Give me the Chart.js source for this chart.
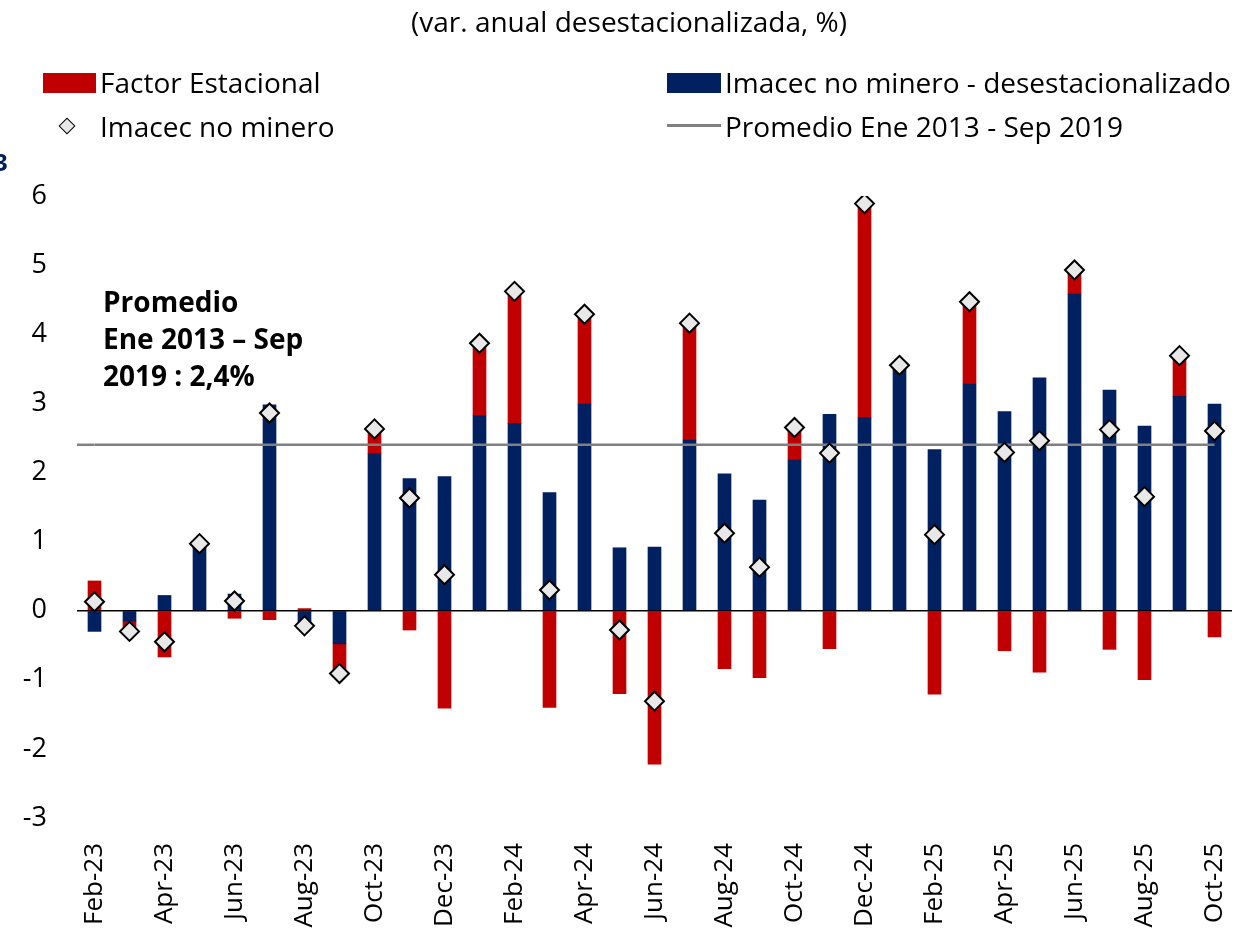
<!DOCTYPE html>
<html>
<head>
<meta charset="utf-8">
<script src="https://cdn.jsdelivr.net/npm/chart.js@4.4.1/dist/chart.umd.min.js"></script>
<style>
  body { margin: 0; background: #fff; font-family: "Open Sans", sans-serif; }
  #wrap { position: relative; width: 1258px; height: 933px; overflow: hidden; }
  #chart { position: absolute; left: 0; top: 0; }
  .txt { position: absolute; transform: translateY(-50%); line-height: 1.2; color: #000; white-space: nowrap; }
  .box { position: absolute; }
</style>
</head>
<body>
<div id="wrap">
  <canvas id="chart" width="1258" height="933"></canvas>

  <div class="txt" id="subtitle" style="left:0; width:1258px; text-align:center; top:22px; font-size:28px;">(var. anual desestacionalizada, %)</div>

  <div class="box" style="left:43px; top:73px; width:53px; height:20px; background:#C00000;"></div>
  <div class="txt" style="left:100px; top:83px; font-size:28px;">Factor Estacional</div>
  <div class="box" style="left:667px; top:73px; width:54px; height:20px; background:#002060;"></div>
  <div class="txt" style="left:725px; top:83px; font-size:28px;">Imacec no minero - desestacionalizado</div>
  <div class="box" style="left:61px; top:120px; width:10px; height:10px; background:#E8E8E8; border:1.5px solid #000; transform:rotate(45deg);"></div>
  <div class="txt" style="left:100px; top:127px; font-size:28px;">Imacec no minero</div>
  <div class="box" style="left:667px; top:124px; width:54px; height:2.5px; background:#808080;"></div>
  <div class="txt" style="left:725px; top:127px; font-size:28px;">Promedio Ene 2013 - Sep 2019</div>

  <div class="txt" style="left:-6px; top:162px; font-size:24px; font-weight:bold; color:#002060;">3</div>

  <div class="txt" style="left:103px; top:302px; font-size:28px; font-weight:bold;">Promedio</div>
  <div class="txt" style="left:103px; top:339px; font-size:28px; font-weight:bold;">Ene 2013 – Sep</div>
  <div class="txt" style="left:103px; top:376px; font-size:28px; font-weight:bold;">2019 : 2,4%</div>
</div>

<script>
// meses, feb-2023 a oct-2025
const months = [
    'Feb-23', 'Mar-23', 'Apr-23', 'May-23', 'Jun-23', 'Jul-23', 'Aug-23', 'Sep-23', 'Oct-23', 'Nov-23', 'Dec-23',
    'Jan-24', 'Feb-24', 'Mar-24', 'Apr-24', 'May-24', 'Jun-24', 'Jul-24', 'Aug-24', 'Sep-24', 'Oct-24', 'Nov-24', 'Dec-24',
    'Jan-25', 'Feb-25', 'Mar-25', 'Apr-25', 'May-25', 'Jun-25', 'Jul-25', 'Aug-25', 'Sep-25', 'Oct-25'
];

// Imacec no minero - desestacionalizado
const desestacionalizado = [
    -0.30, -0.15, 0.22, 0.90, 0.24, 2.98, -0.25, -0.48, 2.27, 1.91, 1.94,
    2.82, 2.71, 1.71, 2.99, 0.91, 0.92, 2.47, 1.98, 1.60, 2.18, 2.84, 2.79,
    3.50, 2.33, 3.28, 2.88, 3.37, 4.58, 3.19, 2.67, 3.10, 2.99
];

// Factor Estacional
const factorEstacional = [
    0.43, -0.15, -0.67, 0.07, -0.11, -0.13, 0.03, -0.43, 0.36, -0.28, -1.41,
    1.04, 1.91, -1.40, 1.30, -1.20, -2.22, 1.69, -0.84, -0.97, 0.47, -0.55, 3.10,
    0.06, -1.21, 1.19, -0.58, -0.89, 0.35, -0.56, -1.00, 0.59, -0.38
];

// Imacec no minero (rombos)
const imacecNoMinero = [
    0.13, -0.30, -0.45, 0.97, 0.14, 2.86, -0.22, -0.91, 2.63, 1.63, 0.52,
    3.87, 4.62, 0.30, 4.29, -0.28, -1.31, 4.16, 1.12, 0.63, 2.65, 2.28, 5.89,
    3.55, 1.10, 4.47, 2.29, 2.46, 4.93, 2.62, 1.65, 3.69, 2.60
];

const promedio = 2.4;
const promedioLine = months.map(() => promedio);

const yTicks = [-3, -2, -1, 0, 1, 2, 3, 4, 5, 6];

// la linea del promedio parte en el borde izquierdo del grafico
const extendAvgLine = {
    id: 'extendAvgLine',
    afterDatasetsDraw(chart) {
        const meta = chart.getDatasetMeta(2);
        if (!meta.data.length) return;
        const ctx = chart.ctx;
        const y = chart.scales.y.getPixelForValue(promedio);
        ctx.save();
        ctx.strokeStyle = '#808080';
        ctx.lineWidth = 2.5;
        ctx.beginPath();
        ctx.moveTo(chart.chartArea.left, y);
        ctx.lineTo(meta.data[0].x, y);
        ctx.stroke();
        ctx.restore();
    }
};

const chart = new Chart(document.getElementById('chart'), {
    type: 'bar',
    data: {
        labels: months,
        datasets: [{
            label: 'Imacec no minero - desestacionalizado',
            data: desestacionalizado,
            backgroundColor: '#002060',
            barThickness: 13,
            stack: 'bars',
            order: 3
        }, {
            label: 'Factor Estacional',
            data: factorEstacional,
            backgroundColor: '#C00000',
            barThickness: 13,
            stack: 'bars',
            order: 4
        }, {
            type: 'line',
            label: 'Promedio Ene 2013 - Sep 2019',
            data: promedioLine,
            borderColor: '#808080',
            borderWidth: 2.5,
            pointRadius: 0,
            stack: 'avg',
            order: 2
        }, {
            type: 'line',
            label: 'Imacec no minero',
            data: imacecNoMinero,
            showLine: false,
            pointStyle: 'rectRot',
            pointRadius: 9.5,
            pointBackgroundColor: '#E8E8E8',
            pointBorderColor: '#000',
            pointBorderWidth: 2,
            stack: 'dots',
            order: 1
        }]
    },
    options: {
        responsive: false,
        animation: false,
        layout: { padding: { top: 196, right: 26, left: 0, bottom: 0 } },
        plugins: {
            legend: { display: false },
            tooltip: { enabled: false }
        },
        scales: {
            x: {
                stacked: true,
                grid: { display: false, drawTicks: false },
                border: { display: false },
                ticks: {
                    autoSkip: false,
                    minRotation: 90,
                    maxRotation: 90,
                    padding: 25,
                    color: '#000',
                    font: { family: 'Open Sans', size: 26 },
                    callback: function (val, i) { return i % 2 === 0 ? months[i] : ''; }
                },
                afterFit(scale) {
                    scale.height = 115;
                    scale.paddingLeft = 0;
                    scale.paddingRight = 0;
                }
            },
            y: {
                stacked: true,
                min: -3,
                max: 6,
                afterBuildTicks(scale) { scale.ticks = yTicks.map(v => ({ value: v })); },
                grid: {
                    drawTicks: false,
                    color: ctx => ctx.tick && ctx.tick.value === 0 ? '#000' : 'rgba(0,0,0,0)',
                    lineWidth: 1.5
                },
                border: { display: false },
                ticks: {
                    padding: 30,
                    color: '#000',
                    font: { family: 'Open Sans', size: 27 }
                },
                afterFit(scale) { scale.width = 77; }
            }
        }
    },
    plugins: [extendAvgLine]
});
</script>
</body>
</html>
